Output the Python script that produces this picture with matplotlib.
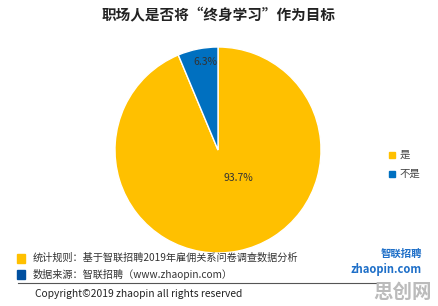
import matplotlib
matplotlib.use("Agg")
import matplotlib.pyplot as plt
from matplotlib.patches import Rectangle
from matplotlib.lines import Line2D

plt.rcParams['font.family'] = ['Noto Sans CJK SC', 'DejaVu Sans']

categories = ["是", "不是"]
values = [93.7, 6.3]
colors = ["#FFC000", "#0070C0"]
title = "职场人是否将“终身学习”作为目标"

W, H = 438, 306
fig = plt.figure(figsize=(W / 100, H / 100), dpi=100)
fig.patch.set_facecolor("white")

cx, cy, r = 218, 150, 103
ax = fig.add_axes([(cx - r) / W, (H - cy - r) / H, 2 * r / W, 2 * r / H])
wedges, texts, autotexts = ax.pie(
    values, colors=colors, startangle=90, counterclock=False,
    autopct=lambda p: f"{p:.1f}%", pctdistance=0.6,
    wedgeprops=dict(linewidth=1, edgecolor="white"),
    textprops=dict(fontsize=7.5, color="#333333"))
autotexts[1].set_position((-0.12, 0.85))
autotexts[0].set_position((0.2, -0.27))
ax.set_xlim(-1, 1)
ax.set_ylim(-1, 1)
ax.set_aspect("equal")
ax.axis("off")

fig.text(0.5, 1 - 15 / H, title, ha="center", va="center", fontsize=10.5,
         fontweight="bold", color="#222222")

# legend
for i, cat in enumerate(categories):
    y = 155 + i * 19
    fig.patches.append(Rectangle(((392 - 3) / W, 1 - (y + 3) / H), 6 / W, 6 / H,
                                 transform=fig.transFigure, color=colors[i]))
    fig.text(400 / W, 1 - y / H, cat, ha="left", va="center", fontsize=7.5, color="#444444")

# footer
fig.patches.append(Rectangle((17 / W, 1 - 263 / H), 8 / W, 9 / H,
                             transform=fig.transFigure, color="#FFC000"))
fig.patches.append(Rectangle((17 / W, 1 - 279 / H), 8 / W, 9 / H,
                             transform=fig.transFigure, color="#0050A0"))
fig.text(33 / W, 1 - 258 / H, "统计规则：基于智联招聘2019年雇佣关系问卷调查数据分析",
         ha="left", va="center", fontsize=7.3, color="#333333")
fig.text(33 / W, 1 - 274 / H, "数据来源：智联招聘（www.zhaopin.com）",
         ha="left", va="center", fontsize=7.3, color="#333333")
fig.lines.append(Line2D([18 / W, 378 / W], [1 - 283 / H, 1 - 283 / H],
                        transform=fig.transFigure, color="#555555", linewidth=0.8))
fig.text(35 / W, 1 - 294 / H, "Copyright©2019 zhaopin all rights reserved",
         ha="left", va="center", fontsize=7.4, color="#222222")

# logo
fig.text(422 / W, 1 - 254 / H, "智联招聘", ha="right", va="center", fontsize=7.5,
         fontweight="bold", color="#1E6FC8", style="italic")
fig.text(422 / W, 1 - 269 / H, "zhaopin.com", ha="right", va="center", fontsize=8,
         fontweight="bold", color="#1E6FC8", style="italic")
fig.text(432 / W, 1 - 292 / H, "思创网", ha="right", va="center", fontsize=14,
         fontweight="bold", color="#BBBBBB")

fig.savefig("out.png", dpi=100, facecolor="white")
